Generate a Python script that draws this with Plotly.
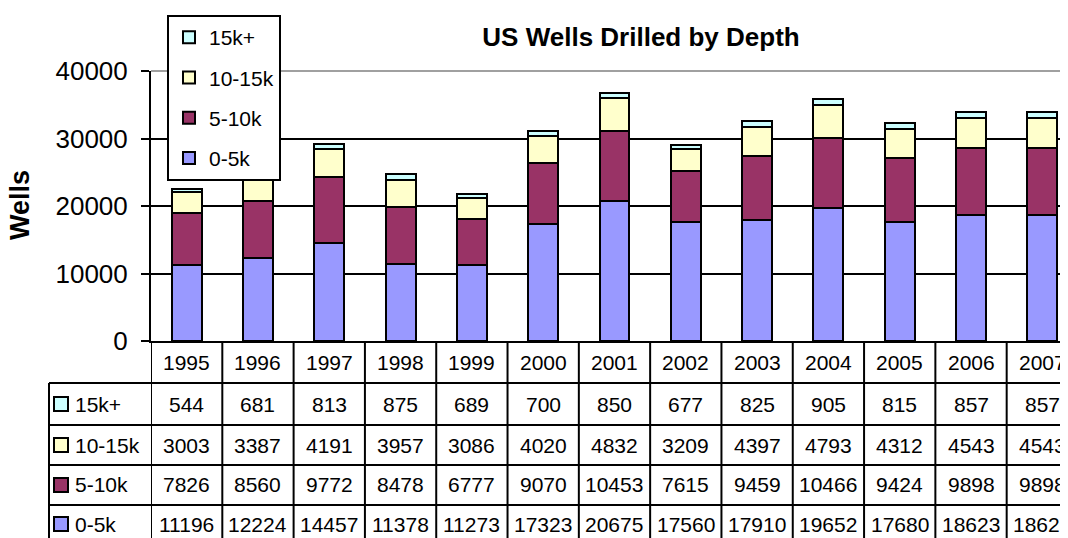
import plotly.graph_objects as go

years = [1995, 1996, 1997, 1998, 1999, 2000, 2001, 2002, 2003, 2004, 2005, 2006, 2007]
series_names = ["0-5k", "5-10k", "10-15k", "15k+"]
d0_5 = [11196, 12224, 14457, 11378, 11273, 17323, 20675, 17560, 17910, 19652, 17680, 18623, 18623]
d5_10 = [7826, 8560, 9772, 8478, 6777, 9070, 10453, 7615, 9459, 10466, 9424, 9898, 9898]
d10_15 = [3003, 3387, 4191, 3957, 3086, 4020, 4832, 3209, 4397, 4793, 4312, 4543, 4543]
d15 = [544, 681, 813, 875, 689, 700, 850, 677, 825, 905, 815, 857, 857]
colors = ["#9999FF", "#993366", "#FFFFCC", "#CCFFFF"]
y_ticks = [0, 10000, 20000, 30000, 40000]

series = [d0_5, d5_10, d10_15, d15]
FONT = "Arial, Liberation Sans, sans-serif"

# page body has an 8px margin, so the figure is drawn 8px lower/righter;
# all page positions below are given in screen pixels and shifted by OFF
OFF = 8
W, H = 1068 - OFF, 538 - OFF
L, T, BOT = 151 - OFF, 71 - OFF, 341 - OFF
PH = BOT - T


def py(p):
    return (BOT - (p - OFF)) / PH


def px(p):
    return (p - OFF - L) / (W - L)


xs = list(range(len(years)))

fig = go.Figure()
for i, (name, vals) in enumerate(zip(series_names, series)):
    fig.add_trace(go.Bar(
        x=xs, y=vals, name=name, legendgroup=name, legendrank=10 - i,
        marker=dict(color=colors[i], line=dict(color="black", width=2)),
    ))

shapes = []
annotations = []
cell_font = dict(size=21, family=FONT, color="black")

# table lines
row_lines = [383, 425, 465, 505]
for r in row_lines:
    shapes.append(dict(type="line", xref="paper", yref="paper", x0=px(49), x1=1.05,
                       y0=py(r), y1=py(r), line=dict(color="black", width=2)))
for i in range(len(years) + 1):
    shapes.append(dict(type="line", xref="x", yref="paper", x0=i - 0.5, x1=i - 0.5,
                       y0=0, y1=py(545), line=dict(color="black", width=2)))
shapes.append(dict(type="line", xref="paper", yref="paper", x0=px(49), x1=px(49),
                   y0=py(row_lines[0]), y1=py(545), line=dict(color="black", width=2)))
# top border line of plot area (grey)
shapes.append(dict(type="line", xref="paper", yref="paper", x0=0, x1=1, y0=1, y1=1,
                   line=dict(color="#808080", width=1.5)))

# header years
for i, yr in enumerate(years):
    annotations.append(dict(x=i, y=py(362), xref="x", yref="paper", text=str(yr),
                            xanchor="center", yanchor="middle",
                            showarrow=False, font=cell_font))

# data rows (top to bottom: 15k+, 10-15k, 5-10k, 0-5k)
row_centers = [404, 445, 485, 524]
for r, si in zip(row_centers, [3, 2, 1, 0]):
    for i, v in enumerate(series[si]):
        annotations.append(dict(x=i, y=py(r), xref="x", yref="paper", text=str(v),
                                xanchor="center", yanchor="middle",
                                showarrow=False, font=cell_font))
    shapes.append(dict(type="rect", xref="paper", yref="paper", x0=px(54), x1=px(68),
                       y0=py(r + 7), y1=py(r - 7), fillcolor=colors[si],
                       line=dict(color="black", width=2)))
    annotations.append(dict(x=px(73), y=py(r), xref="paper", yref="paper", text=series_names[si],
                            xanchor="left", yanchor="middle", showarrow=False,
                            font=cell_font))

# y axis title
annotations.append(dict(x=px(20), y=py(205), xref="paper", yref="paper", text="<b>Wells</b>",
                        textangle=-90, xanchor="center", yanchor="middle", showarrow=False,
                        font=dict(size=27, family=FONT, color="black")))

fig.update_layout(
    width=W, height=H,
    barmode="stack", bargap=0.58,
    plot_bgcolor="white", paper_bgcolor="white",
    margin=dict(l=L, r=0, t=T, b=H - BOT, autoexpand=False),
    title=dict(text="<b>US Wells Drilled by Depth</b>", x=(641 - OFF) / W, y=1 - (37 - OFF) / H,
               xanchor="center", yanchor="middle",
               font=dict(size=26, family=FONT, color="black")),
    xaxis=dict(range=[-0.5, 12.36], showticklabels=False, showgrid=False, zeroline=False,
               showline=True, linecolor="black", linewidth=2, ticks=""),
    yaxis=dict(range=[0, 40000], tickvals=y_ticks, tickformat="d",
               showgrid=True, gridcolor="black", gridwidth=1.5, zeroline=False,
               showline=True, linecolor="black", linewidth=2,
               ticks="outside", ticklen=8, tickwidth=2, tickcolor="black",
               ticklabelstandoff=8,
               tickfont=dict(size=26, family=FONT, color="black")),
    legend=dict(x=px(167), y=py(15), xanchor="left", yanchor="top",
                traceorder="grouped", tracegroupgap=10,
                bgcolor="white", bordercolor="black", borderwidth=2,
                itemwidth=30, font=dict(size=21, family=FONT, color="black")),
    shapes=shapes,
    annotations=annotations,
)

fig.write_html("out.html")
